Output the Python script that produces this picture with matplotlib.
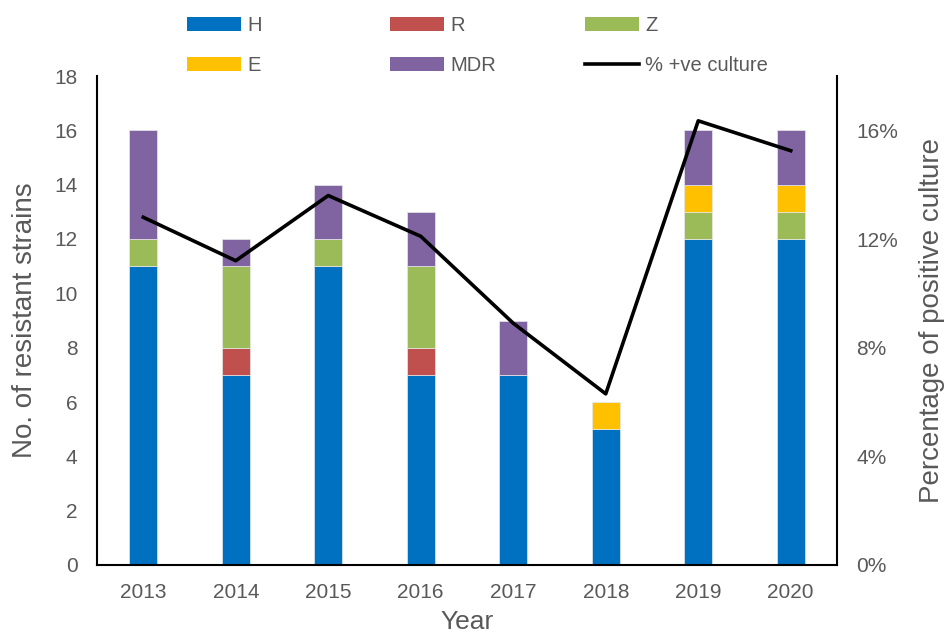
import matplotlib
matplotlib.use("Agg")
import matplotlib.pyplot as plt
import numpy as np
from matplotlib.ticker import FuncFormatter
from matplotlib.lines import Line2D
from matplotlib.patches import Patch

years = ["2013", "2014", "2015", "2016", "2017", "2018", "2019", "2020"]
H = [11, 7, 11, 7, 7, 5, 12, 12]
R = [0, 1, 0, 1, 0, 0, 0, 0]
Z = [1, 3, 1, 3, 0, 0, 1, 1]
E = [0, 0, 0, 0, 0, 1, 1, 1]
MDR = [4, 1, 2, 2, 2, 0, 2, 2]
pos_culture = [0.128, 0.112, 0.136, 0.121, 0.089, 0.063, 0.1635, 0.1525]

series = [("H", H, "#0070C0"), ("R", R, "#C0504D"), ("Z", Z, "#9BBB59"),
          ("E", E, "#FFC000"), ("MDR", MDR, "#8064A2")]

plt.rcParams['font.family'] = ['Liberation Sans', 'DejaVu Sans']
gray = "#595959"

fig = plt.figure(figsize=(9.5, 6.35), dpi=100)
ax = fig.add_axes([97/950, 1-565/635, (837-97)/950, (565-76)/635])
x = np.arange(len(years))
bottom = np.zeros(len(years))
handles = {}
for name, vals, col in series:
    v = np.array(vals, dtype=float)
    ax.bar(x, v, 0.3, bottom=bottom, color=col, edgecolor="#e8e8e8", linewidth=0.5, zorder=2)
    bottom += v
    handles[name] = Patch(facecolor=col, edgecolor='none')

ax.set_xlim(-0.5, len(years) - 0.5)
ax.set_ylim(0, 18)
ax.set_yticks(range(0, 19, 2))
ax.set_xticks(x)
ax.set_xticklabels(years)
ax.tick_params(axis='both', length=0, labelsize=15, colors=gray)
ax.tick_params(axis='y', pad=14)
ax.tick_params(axis='x', pad=13)
for s in ['top', 'right']:
    ax.spines[s].set_visible(False)
for s in ['left', 'bottom']:
    ax.spines[s].set_linewidth(1.5)
    ax.spines[s].set_color('black')
ax.set_ylabel("No. of resistant strains", fontsize=20, color=gray, labelpad=12)
ax.set_xlabel("Year", fontsize=19, color=gray, labelpad=6)

ax2 = ax.twinx()
ax2.plot(x, pos_culture, color='black', linewidth=2.6, zorder=5)
ax2.set_ylim(0, 0.18)
ax2.set_yticks([0, 0.04, 0.08, 0.12, 0.16])
ax2.yaxis.set_major_formatter(FuncFormatter(lambda v, p: f"{v*100:.0f}%"))
ax2.tick_params(axis='y', length=0, labelsize=15, colors=gray, pad=14)
for s in ['top', 'left', 'bottom']:
    ax2.spines[s].set_visible(False)
ax2.spines['right'].set_linewidth(1.5)
ax2.set_ylabel("Percentage of positive culture", fontsize=20, color=gray, labelpad=15)

line_handle = Line2D([0], [0], color='black', linewidth=2.6)
cols = [([handles["H"], handles["E"]], ["H", "E"], 187),
        ([handles["R"], handles["MDR"]], ["R", "MDR"], 390),
        ([handles["Z"], line_handle], ["Z", "% +ve culture"], 585)]
for hs, ls, xp in cols:
    leg = fig.legend(hs, ls, loc='upper left', bbox_to_anchor=(xp/950, 1-16/635),
                     frameon=False, fontsize=14.5, handlelength=2.7, handleheight=0.65,
                     handletextpad=0.3, labelspacing=1.05, borderpad=0, borderaxespad=0)
    for t in leg.get_texts():
        t.set_color(gray)

fig.savefig("out.png", dpi=100)
